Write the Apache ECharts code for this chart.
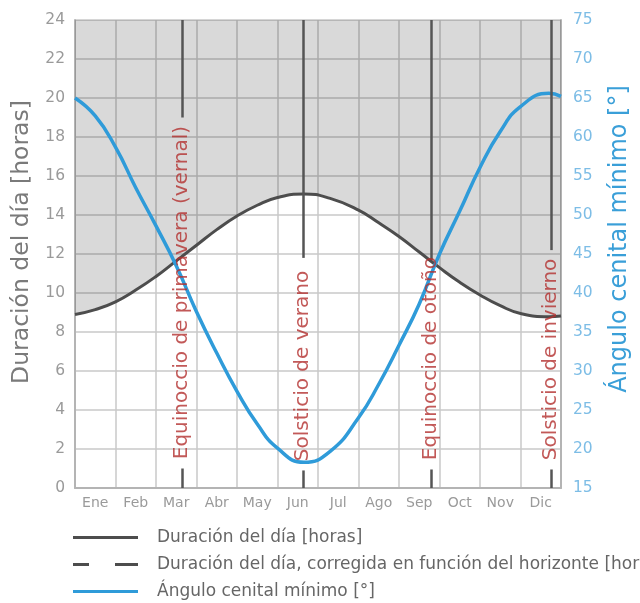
<!DOCTYPE html>
<html>
<head>
<meta charset="utf-8">
<script src="https://cdn.jsdelivr.net/npm/echarts@6/dist/echarts.min.js"></script>
<style>
html,body{margin:0;padding:0;background:#fff;}
#chart{width:640px;height:603px;}
</style>
</head>
<body>
<div id="chart"></div>
<script>
// Month labels (categories)
const months = ['Ene','Feb','Mar','Abr','May','Jun','Jul','Ago','Sep','Oct','Nov','Dic'];
// Sample positions along the year, in months from 1 Jan
const samplePos = [0,0.5,1,1.5,2,2.5,3,3.5,4,4.5,5,5.65,6.3,7,7.5,8,8.5,9,9.5,10,10.5,11,11.7,12];
// Day length [hours]
const dayLength = [8.9,9.15,9.55,10.15,10.85,11.65,12.45,13.25,13.95,14.5,14.9,15.08,14.85,14.25,13.6,12.9,12.1,11.3,10.55,9.9,9.35,8.95,8.78,8.82];
// Minimum zenith angle [deg]
const zenith = [65.0,62.7,58.7,53.5,48.6,43.5,37.6,32.3,27.4,23.2,20.1,18.3,19.7,24.0,28.3,33.3,38.6,45.0,50.5,56.1,60.7,63.9,65.6,65.2];
// Events
const eventNames = ['Equinoccio de primavera (vernal)','Solsticio de verano','Equinoccio de otoño','Solsticio de invierno'];
const eventPos = [2.64,5.63,8.79,11.75];
const eventLineEnd = [19.0,11.8,11.7,12.2];
const eventTextBase = [1.45,1.35,1.4,1.4];
const eventTickTop = [1.0,0.9,0.95,0.95];

const seriesNames = ['Duración del día [horas]','Duración del día, corregida en función del horizonte [horas]','Ángulo cenital mínimo [°]'];
const FONT = 'DejaVu Sans';

const chart = echarts.init(document.getElementById('chart'), null, {renderer:'canvas'});

const markData = [];
eventPos.forEach((m,i)=>{
  markData.push([{coord:[m,24]},{coord:[m,eventLineEnd[i]]}]);
  markData.push([{coord:[m,0]},{coord:[m,eventTickTop[i]]}]);
});

const option = {
  backgroundColor:'#fff',
  animation:false,
  grid:{left:75,right:77,top:20,bottom:115,containLabel:false},
  xAxis:[
    {type:'value',min:0,max:12,interval:1,position:'bottom',
     axisLine:{show:true,lineStyle:{color:'#b4b4b4',width:2}},
     axisTick:{show:false},axisLabel:{show:false},
     splitLine:{show:true,lineStyle:{color:'#c8c8c8',width:1.5}}},
    {type:'category',data:months,boundaryGap:true,position:'bottom',
     axisLine:{show:false},axisTick:{show:false},splitLine:{show:false},
     axisLabel:{color:'#9a9a9a',fontSize:14,margin:8,fontFamily:FONT}}
  ],
  yAxis:[
    {type:'value',min:0,max:24,interval:2,position:'left',
     name:'Duración del día [horas]',nameLocation:'middle',nameGap:40,nameRotate:90,
     nameTextStyle:{color:'#7a7a7a',fontSize:23.5,fontFamily:FONT,padding:[0,0,0,24]},
     axisLine:{show:true,lineStyle:{color:'#b4b4b4',width:2}},
     axisTick:{show:false},
     axisLabel:{color:'#9a9a9a',fontSize:15.5,margin:10,fontFamily:FONT},
     splitLine:{show:true,lineStyle:{color:'#c8c8c8',width:1.5}}},
    {type:'value',min:15,max:75,interval:5,position:'right',
     name:'Ángulo cenital mínimo [°]',nameLocation:'middle',nameGap:47,nameRotate:90,
     nameTextStyle:{color:'#3a9fd8',fontSize:24,fontFamily:FONT,padding:[0,0,0,30]},
     axisLine:{show:true,lineStyle:{color:'#b4b4b4',width:2}},
     axisTick:{show:false},
     axisLabel:{color:'#7dbde6',fontSize:15.5,margin:12,fontFamily:FONT},
     splitLine:{show:false}}
  ],
  legend:{
    orient:'vertical',left:73,top:529,itemWidth:65,itemHeight:3,itemGap:10,
    padding:0,
    textStyle:{color:'#666',fontSize:17,fontFamily:FONT,padding:[0,0,0,14]},
    data:[
      {name:seriesNames[0],icon:'path://M0,0H65V3H0Z'},
      {name:seriesNames[1],icon:'path://M0,0H16V3H0Z M42,0H65V3H42Z'},
      {name:seriesNames[2],icon:'path://M0,0H65V3H0Z'}
    ]
  },
  series:[
    {name:seriesNames[0],type:'line',xAxisIndex:0,yAxisIndex:0,smooth:true,symbol:'none',
     data:samplePos.map((p,i)=>[p,dayLength[i]]),
     lineStyle:{color:'#4d4d4d',width:3},itemStyle:{color:'#4d4d4d'},
     areaStyle:{origin:'end',color:'rgba(0,0,0,0.21)'},z:3},
    {name:seriesNames[1],type:'line',xAxisIndex:0,yAxisIndex:0,symbol:'none',data:[],
     lineStyle:{color:'#4d4d4d',width:3,type:[18,22]},itemStyle:{color:'#4d4d4d'}},
    {name:seriesNames[2],type:'line',xAxisIndex:0,yAxisIndex:1,smooth:true,symbol:'none',
     data:samplePos.map((p,i)=>[p,zenith[i]]),
     lineStyle:{color:'#2f9bd9',width:3.5},itemStyle:{color:'#2f9bd9'},z:4},
    {name:'eventos',type:'scatter',xAxisIndex:0,yAxisIndex:0,symbolSize:1,
     itemStyle:{color:'rgba(0,0,0,0)'},silent:true,z:5,
     data:eventPos.map((m,i)=>({value:[m,eventTextBase[i]],name:eventNames[i]})),
     label:{show:true,formatter:'{b}',rotate:90,position:[0,0],align:'left',verticalAlign:'middle',
       color:'#b3302e',fontSize:20,fontFamily:FONT},
     labelLayout:{hideOverlap:false},
     markLine:{silent:true,symbol:'none',label:{show:false},
       lineStyle:{color:'#555',width:2.5,type:'solid'},data:markData}}
  ]
};
chart.setOption(option);
</script>
</body>
</html>
